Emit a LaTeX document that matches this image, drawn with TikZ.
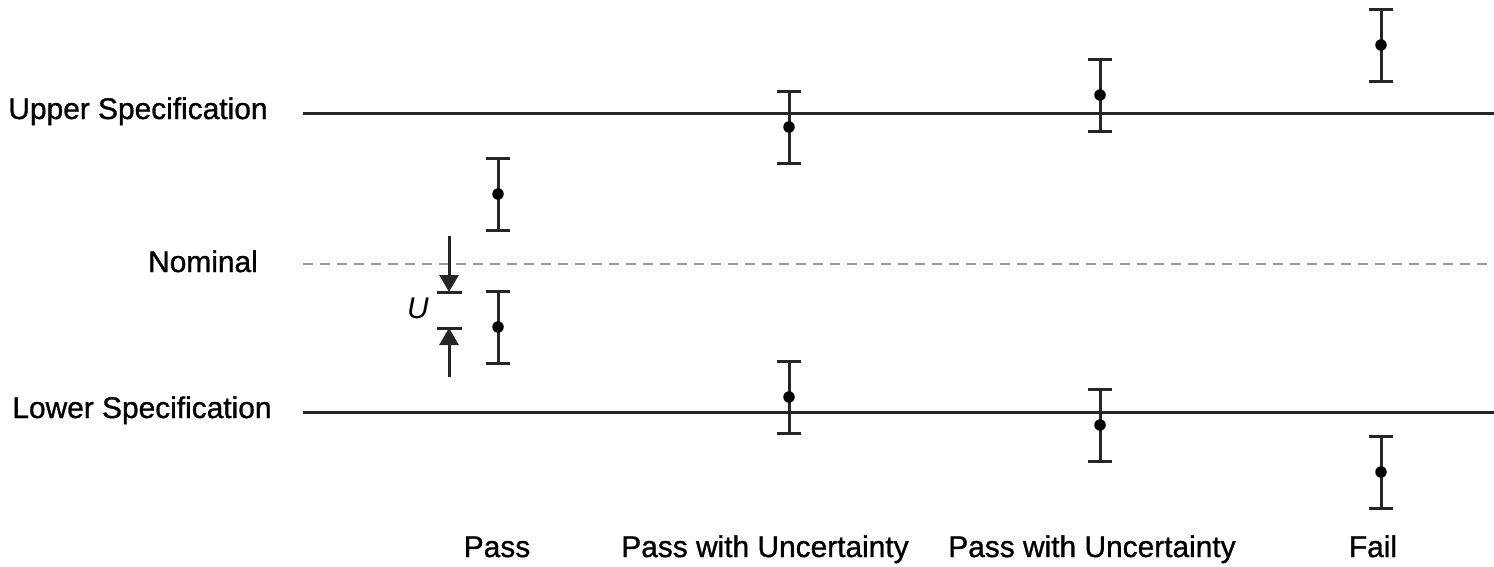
\documentclass[tikz,border=0pt]{standalone}
\usepackage{fontspec}
\setmainfont{Liberation Sans}
\newfontfamily\lblfont{Liberation Sans}[RawFeature={embolden=1.0}]
\usetikzlibrary{arrows.meta}
\tikzset{
  lbl/.style={font=\fontsize{8.5pt}{10pt}\lblfont, inner sep=0pt, anchor=base},
  specline/.style={line width=0.85pt, black!85},
  nomline/.style={line width=0.8pt, black!40, dash pattern=on 0.1cm off 0.07cm},
  bar/.style={line width=0.85pt, black!85},
  dot/.style={circle, fill=black, inner sep=0pt, minimum size=0.115cm},
  uarrow/.style={line width=0.85pt, black!85, -{Triangle[length=0.17cm,width=0.19cm]}}
}
\newcommand{\myerrbar}[4]{% name, x, center y, half-length
  \coordinate (#1t) at (#2,#3-#4);
  \coordinate (#1b) at (#2,#3+#4);
  \draw[bar] (#1t) -- (#1b);
  \draw[bar] ([xshift=-0.12cm]#1t) -- ([xshift=0.12cm]#1t);
  \draw[bar] ([xshift=-0.12cm]#1b) -- ([xshift=0.12cm]#1b);
  \node[dot] (#1) at (#2,#3) {};
}
\begin{document}
\begin{tikzpicture}[x=0.01cm,y=-0.01cm]
\useasboundingbox (0,0) rectangle (1494,566);
% lines
\coordinate (usl) at (303,113); \coordinate (usr) at (1494,113);
\coordinate (nl) at (303,264); \coordinate (nr) at (1494,264);
\coordinate (lsl) at (303,412); \coordinate (lsr) at (1494,412);
\draw[specline] (usl) -- (usr);
\draw[nomline] (nl) -- (nr);
\draw[specline] (lsl) -- (lsr);
% labels
\node[lbl] (tup) at (138,119) {Upper Specification};
\node[lbl] (tnom) at (203,272) {Nominal};
\node[lbl] (tlow) at (142,418) {Lower Specification};
% error bars
\myerrbar{pa}{498}{194}{36}
\myerrbar{pb}{498}{327}{36}
\myerrbar{qa}{789}{127}{36}
\myerrbar{qb}{789}{397}{36}
\myerrbar{ra}{1100}{95}{36}
\myerrbar{rb}{1100}{425}{36}
\myerrbar{fa}{1381}{45}{36}
\myerrbar{fb}{1381}{472}{36}
% U indicator
\coordinate (ua0) at (449,236); \coordinate (ua1) at (449,292);
\coordinate (ub0) at (449,377); \coordinate (ub1) at (449,328);
\coordinate (ut1l) at (437,292); \coordinate (ut1r) at (462,292);
\coordinate (ut2l) at (437,328); \coordinate (ut2r) at (462,328);
\draw[uarrow] (ua0) -- (ua1);
\draw[uarrow] (ub0) -- (ub1);
\draw[bar] (ut1l) -- (ut1r);
\draw[bar] (ut2l) -- (ut2r);
\node[lbl, font=\fontsize{8.5pt}{10pt}\selectfont\itshape] (ulab) at (418,318) {U};
% bottom labels
\node[lbl] (cpass) at (497,557) {Pass};
\node[lbl] (cpu1) at (765,557) {Pass with Uncertainty};
\node[lbl] (cpu2) at (1092,557) {Pass with Uncertainty};
\node[lbl] (cfail) at (1373,557) {Fail};
\end{tikzpicture}
\end{document}
